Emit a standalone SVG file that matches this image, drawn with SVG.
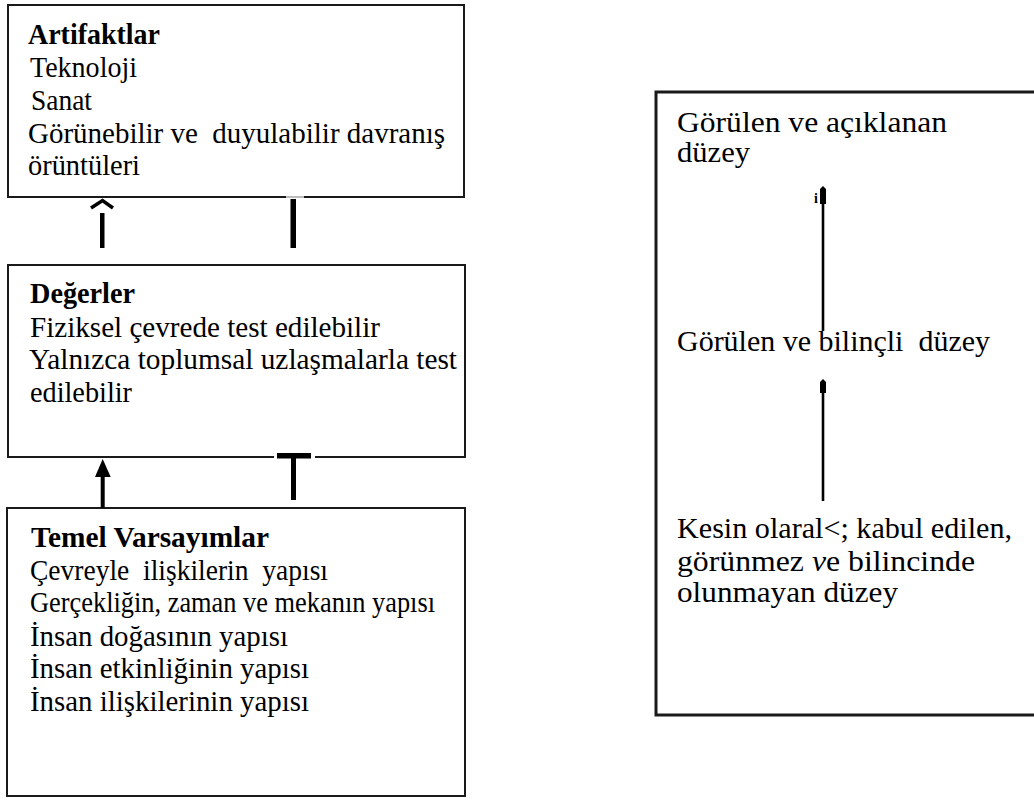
<svg xmlns="http://www.w3.org/2000/svg" width="1034" height="800" viewBox="0 0 1034 800">
<style>
.box{fill:#fff;stroke:#1a1a1a;stroke-width:2}
.rbox{fill:#fff;stroke:#1a1a1a;stroke-width:3}
.t{font-family:"Liberation Serif","Times New Roman",serif;font-size:29px;fill:#000}
.b{font-weight:bold}
.r{font-family:"Liberation Serif","Times New Roman",serif;font-size:30px;fill:#000}
.ink{fill:#000}
</style>
<rect width="1034" height="800" fill="#fff"/>
<g id="artifaktlar">
<rect class="box" x="8" y="5" width="456" height="192"/>
<text class="t b" x="28" y="44" textLength="132" lengthAdjust="spacingAndGlyphs">Artifaktlar</text>
<text class="t" x="30" y="77" textLength="107" lengthAdjust="spacingAndGlyphs">Teknoloji</text>
<text class="t" x="31" y="110" textLength="61" lengthAdjust="spacingAndGlyphs">Sanat</text>
<text class="t" x="28" y="143" textLength="417" lengthAdjust="spacingAndGlyphs" xml:space="preserve">Görünebilir ve  duyulabilir davranış</text>
<text class="t" x="28" y="175" textLength="112" lengthAdjust="spacingAndGlyphs">örüntüleri</text>
</g>
<g id="degerler">
<rect class="box" x="8" y="265" width="457" height="192"/>
<text class="t b" x="30" y="303" textLength="105" lengthAdjust="spacingAndGlyphs">Değerler</text>
<text class="t" x="30" y="337" textLength="350" lengthAdjust="spacingAndGlyphs">Fiziksel çevrede test edilebilir</text>
<text class="t" x="29" y="369" textLength="428" lengthAdjust="spacingAndGlyphs">Yalnızca toplumsal uzlaşmalarla test</text>
<text class="t" x="30" y="402" textLength="102" lengthAdjust="spacingAndGlyphs">edilebilir</text>
</g>
<g id="temel-varsayimlar">
<rect class="box" x="7" y="508" width="458" height="288"/>
<text class="t b" x="31" y="547" textLength="238" lengthAdjust="spacingAndGlyphs">Temel Varsayımlar</text>
<text class="t" x="30" y="580" textLength="298" lengthAdjust="spacingAndGlyphs" xml:space="preserve">Çevreyle  ilişkilerin  yapısı</text>
<text class="t" x="30" y="612" textLength="405" lengthAdjust="spacingAndGlyphs">Gerçekliğin, zaman ve mekanın yapısı</text>
<text class="t" x="30" y="646" textLength="258" lengthAdjust="spacingAndGlyphs">İnsan doğasının yapısı</text>
<text class="t" x="30" y="678" textLength="279" lengthAdjust="spacingAndGlyphs">İnsan etkinliğinin yapısı</text>
<text class="t" x="30" y="711" textLength="279" lengthAdjust="spacingAndGlyphs">İnsan ilişkilerinin yapısı</text>
</g>
<g id="duzeyler">
<rect class="rbox" x="656" y="92" width="400" height="623"/>
<text class="r" x="677" y="132" textLength="270" lengthAdjust="spacingAndGlyphs">Görülen ve açıklanan</text>
<text class="r" x="677" y="162" textLength="73" lengthAdjust="spacingAndGlyphs">düzey</text>
<text class="r" x="677" y="351" textLength="313" lengthAdjust="spacingAndGlyphs" xml:space="preserve">Görülen ve bilinçli  düzey</text>
<text class="r" x="677" y="538" textLength="335" lengthAdjust="spacingAndGlyphs">Kesin olaral&lt;; kabul edilen,</text>
<text class="r" x="677" y="571" textLength="298" lengthAdjust="spacingAndGlyphs">görünmez <tspan font-style="italic">v</tspan>e bilincinde</text>
<text class="r" x="677" y="602" textLength="221" lengthAdjust="spacingAndGlyphs">olunmayan düzey</text>
</g>
<g id="connectors">
<line x1="286" y1="197" x2="304" y2="197" stroke="#bbb" stroke-width="2"/>
<polyline points="91,208 102.5,200.5 113,208" fill="none" stroke="#000" stroke-width="3.5"/>
<rect class="ink" x="100" y="213" width="4.5" height="35"/>
<rect class="ink" x="290.5" y="199" width="5.5" height="49"/>
<polygon class="ink" points="95,477 102.7,459 110.7,477"/>
<rect class="ink" x="100.7" y="476" width="4" height="32"/>
<rect x="274" y="455" width="41" height="4.5" fill="#fff"/>
<rect class="ink" x="277" y="453" width="34" height="5.5"/>
<rect class="ink" x="291" y="458" width="5" height="42"/>
<polygon class="ink" points="823,186 826,189 826,204 820,204 820,189"/>
<rect class="ink" x="821.7" y="203" width="2.6" height="128"/>
<text x="814" y="203" font-family="Liberation Serif, serif" font-weight="bold" font-size="14">i</text>
<polygon class="ink" points="823,379 826,382 826,393 820,393 820,382"/>
<rect class="ink" x="821.7" y="392" width="2.6" height="109"/>
</g>
</svg>
